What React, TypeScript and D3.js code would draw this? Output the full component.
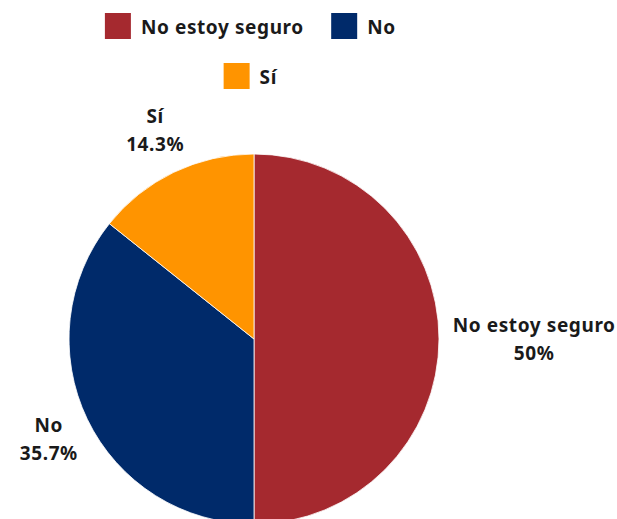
import React from "react";
import * as d3 from "d3";

const categories = ["No estoy seguro", "No", "Sí"];
const values = [7, 5, 2];
const percentLabels = ["50%", "35.7%", "14.3%"];
const colors = ["#A5292F", "#002A6A", "#FF9400"];

const W = 617;
const H = 519;
const FONT = "'Noto Sans', sans-serif";
const FS = 19;
const LS = 0.6;

function measure(text: string, size = FS) {
  const c = document.createElement("canvas").getContext("2d")!;
  c.font = `bold ${size}px 'Noto Sans'`;
  return c.measureText(text).width + LS * (Array.from(text).length - 1);
}

export default function App() {
  const cx = 254, cy = 339, R = 185;
  const pie = d3.pie<number>().sort(null).value((d) => d);
  const arcs = pie(values);
  const arc = d3.arc<d3.PieArcDatum<number>>().innerRadius(0).outerRadius(R);

  // legend layout
  const sq = 26, gap = 10, itemGap = 28, maxRow = 320;
  const items = categories.map((c, i) => ({ c, i, w: sq + gap + measure(c) }));
  const rows: typeof items[] = [];
  let cur: typeof items = [];
  let curW = 0;
  items.forEach((it) => {
    const add = cur.length ? itemGap + it.w : it.w;
    if (cur.length && curW + add > maxRow) {
      rows.push(cur);
      cur = [it];
      curW = it.w;
    } else {
      cur.push(it);
      curW += add;
    }
  });
  if (cur.length) rows.push(cur);
  const legendCenter = 250;

  return (
    <svg width={W} height={H} style={{ position: "absolute", left: 0, top: 0 }} fontFamily={FONT} letterSpacing={LS}>
      <rect width={W} height={H} fill="#fff" />
      <g>
        {rows.map((row, ri) => {
          const total = row.reduce((s, it, k) => s + it.w + (k ? itemGap : 0), 0);
          let x = legendCenter - total / 2;
          const y = 13 + ri * 50;
          return row.map((it) => {
            const x0 = x;
            x += it.w + itemGap;
            return (
              <g key={it.c}>
                <rect x={x0} y={y} width={sq} height={sq} fill={colors[it.i]} />
                <text x={x0 + sq + gap} y={y + 21} fontSize={FS} fontWeight="bold" fill="#1a1a1a">
                  {it.c}
                </text>
              </g>
            );
          });
        })}
      </g>
      <g transform={`translate(${cx},${cy})`}>
        {arcs.map((a, i) => (
          <path key={i} d={arc(a)!} fill={colors[i]} stroke="#fff" strokeWidth={0.8} />
        ))}
        {arcs.map((a, i) => {
          const mid = (a.startAngle + a.endAngle) / 2;
          const dx = Math.sin(mid), dy = -Math.cos(mid);
          const r = R + 14;
          const halfW = Math.max(measure(categories[i]), measure(percentLabels[i])) / 2;
          const halfH = 32;
          const lx = dx * r + dx * halfW;
          const ly = dy * r + dy * halfH;
          return (
            <text key={i} textAnchor="middle" fontSize={FS} fontWeight="bold" fill="#1a1a1a">
              <tspan x={lx} y={ly - 7.5}>{categories[i]}</tspan>
              <tspan x={lx} y={ly + 20.5}>{percentLabels[i]}</tspan>
            </text>
          );
        })}
      </g>
    </svg>
  );
}
